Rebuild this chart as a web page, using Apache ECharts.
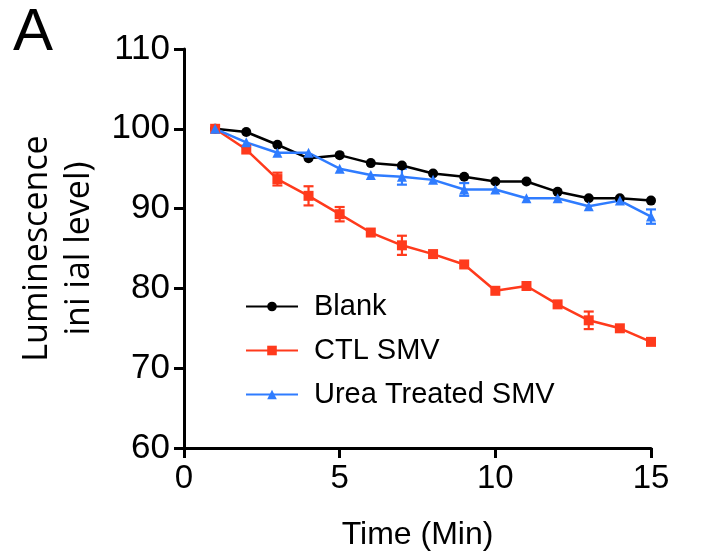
<!DOCTYPE html>
<html>
<head>
<meta charset="utf-8">
<style>html,body{margin:0;padding:0;background:#fff;}#c{width:704px;height:556px;}</style>
<script src="https://cdn.jsdelivr.net/npm/echarts@6/dist/echarts.min.js"></script>
</head>
<body>
<div id="c"></div>
<script>
const times = [1,2,3,4,5,6,7,8,9,10,11,12,13,14,15];
const blank = [100,99.6,98.0,96.3,96.7,95.7,95.4,94.4,94.0,93.4,93.4,92.1,91.3,91.3,91.0];
const blankErr = [0,0,0,0,0,0,0,0,0,0,0,0,0,0,0];
const ctl = [100,97.4,93.7,91.6,89.3,87.0,85.4,84.3,83.0,79.7,80.3,78.0,76.0,75.0,73.3];
const ctlErr = [0,0,0.8,1.2,0.9,0,1.2,0,0,0,0,0,1.1,0,0];
const urea = [100,98.3,97.0,97.0,95.0,94.2,94.0,93.6,92.4,92.4,91.3,91.3,90.3,91.0,89.0];
const ureaErr = [0,0,0,0,0,0,1.0,0,0.8,0,0,0,0,0,0.9];
const yTicks = [60,70,80,90,100,110];
const xTicks = [0,5,10,15];

const RED = '#ff3a1c', BLUE = '#2f7cff', BLACK = '#000000';
const FONT = 'Liberation Sans';

function pairs(vals){ return times.map((t,i)=>[t, vals[i]]); }
function errData(vals, errs){ return times.map((t,i)=>[t, vals[i]-errs[i], vals[i]+errs[i]]).filter((d,i)=>errs[i]>0); }
function errSeries(vals, errs, color){
  return {
    type:'custom', silent:true, z:1,
    data: errData(vals, errs),
    renderItem: function(params, api){
      const lo = api.coord([api.value(0), api.value(1)]);
      const hi = api.coord([api.value(0), api.value(2)]);
      const w = 5;
      const st = {stroke: color, lineWidth: 2.2};
      return {type:'group', children:[
        {type:'line', shape:{x1:lo[0],y1:lo[1],x2:hi[0],y2:hi[1]}, style:st},
        {type:'line', shape:{x1:lo[0]-w,y1:lo[1],x2:lo[0]+w,y2:lo[1]}, style:st},
        {type:'line', shape:{x1:hi[0]-w,y1:hi[1],x2:hi[0]+w,y2:hi[1]}, style:st}
      ]};
    }
  };
}
function lineSeries(name, vals, color, symbol, size){
  return {
    name, type:'line', data: pairs(vals), z:3,
    symbol, symbolSize:size, showSymbol:true,
    lineStyle:{color, width:2.5},
    itemStyle:{color},
    emphasis:{disabled:true}
  };
}

const chart = echarts.init(document.getElementById('c'), null, {renderer:'canvas'});
chart.setOption({
  animation:false,
  backgroundColor:'#fff',
  grid:{left:184, right:53, top:49, bottom:105},
  graphic:[{type:'text', left:13, top:3, style:{text:'A', font:'60px "Liberation Sans"', fill:'#000'}}],
  legend:{
    orient:'vertical', left:240, top:287, itemGap:15,
    itemWidth:52, itemHeight:12,
    textStyle:{fontFamily:FONT, fontSize:29, color:'#000', padding:[0,0,0,11]},
    data:['Blank','CTL SMV','Urea Treated SMV']
  },
  xAxis:{
    type:'value', min:0, max:15, interval:5,
    name:'Time (Min)', nameLocation:'middle', nameGap:71,
    nameTextStyle:{fontFamily:FONT, fontSize:32, color:'#000'},
    axisLine:{lineStyle:{color:'#000', width:3}},
    axisTick:{show:true, length:10, lineStyle:{color:'#000', width:3}},
    axisLabel:{fontFamily:FONT, fontSize:33, color:'#000', margin:14},
    splitLine:{show:false}
  },
  yAxis:{
    type:'value', min:60, max:110, interval:10,
    name:'Luminescence\nini ial level)', nameLocation:'middle', nameGap:84, nameRotate:90,
    nameTextStyle:{fontFamily:'Open Sans', fontSize:34, color:'#000', lineHeight:42, align:'center'},
    axisLine:{lineStyle:{color:'#000', width:3}},
    axisTick:{show:true, length:10, lineStyle:{color:'#000', width:3}},
    axisLabel:{fontFamily:FONT, fontSize:35, color:'#000', margin:14},
    splitLine:{show:false}
  },
  series:[
    errSeries(blank, blankErr, BLACK),
    errSeries(ctl, ctlErr, RED),
    errSeries(urea, ureaErr, BLUE),
    lineSeries('Blank', blank, BLACK, 'circle', 10),
    lineSeries('CTL SMV', ctl, RED, 'rect', 10),
    lineSeries('Urea Treated SMV', urea, BLUE, 'triangle', 10)
  ]
});
</script>
</body>
</html>
